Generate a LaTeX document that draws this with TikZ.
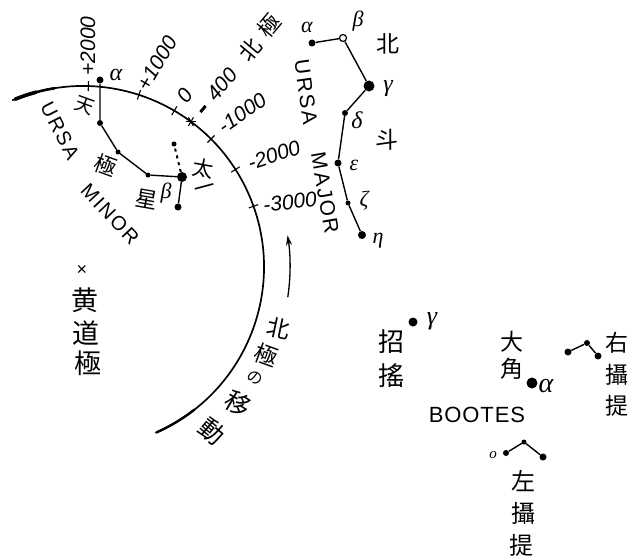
\documentclass[tikz,border=0pt]{standalone}
\usepackage{fontspec}
\setmainfont{Liberation Sans}
\newfontfamily\cjk{Noto Sans CJK JP}
\newfontfamily\grkfont{Liberation Serif}
\usetikzlibrary{arrows.meta,calc}
\begin{document}
\begin{tikzpicture}[x=1pt,y=-1pt,
  sdot/.style={circle,fill=black,inner sep=0pt,minimum size=#1},
  odot/.style={circle,draw=black,fill=white,line width=1.2pt,inner sep=0pt,minimum size=#1},
  link/.style={line width=1.4pt},
  arctick/.style={line width=1.1pt},
  cj/.style={font=\cjk\fontsize{#1}{#1}\selectfont,inner sep=0pt},
  num/.style={font=\itshape\fontsize{21}{21}\selectfont,inner sep=0pt},
  lettering/.style={font=\fontsize{#1}{#1}\selectfont\addfontfeature{LetterSpace=10},inner sep=0pt},
  grk/.style={font=\grkfont\itshape\fontsize{#1}{#1}\selectfont,inner sep=0pt}
]
\useasboundingbox (0,0) rectangle (631,559);

% ---- path of the north celestial pole around the ecliptic pole ----
\coordinate (C) at (83,267);
\draw[line width=1.7pt] (C) ++(-113:181) arc[start angle=-113,end angle=66.4,radius=181];
\draw[line width=3.6pt,line cap=round] (C) ++(-112:181) arc[start angle=-112,end angle=-105,radius=181];
\draw[line width=2.6pt] (C) ++(-109:181) arc[start angle=-109,end angle=-99,radius=181];
\draw[line width=2.4pt,line cap=round] (C) ++(52:181) arc[start angle=52,end angle=66,radius=181];

% year marks on the path
\foreach \a in {-88.3,-72,-59.7,-45,-32.6,-19.6}
  \draw[arctick] (C) ++(\a:176) -- ++(\a:10);
\coordinate (now) at ($(C)+(-53.4:181)$);
\foreach \b in {0,60,120}
  \draw[arctick] (now) ++(\b:5) -- ++(\b+180:10);

% year labels
\node[num,rotate=90] (y2000) at (88,46) {+2000};
\node[num,rotate=60] (y1000) at (157,63) {+1000};
\node[num,rotate=55] (y0) at (185,96) {0};
\node[inner sep=0pt,rotate=50] (ydash) at (203,109) {\rule{8pt}{3pt}};
\node[num,rotate=50] (y400) at (222,84) {400};
\node[cj=22,rotate=50] (hk1) at (250,50) {北};
\node[cj=22,rotate=50] (hk2) at (269,26) {極};
\node[num,rotate=35] (ym1000) at (242,113) {-1000};
\node[num,rotate=18] (ym2000) at (274,155) {-2000};
\node[num,rotate=7] (ym3000) at (290,202) {-3000};

% direction of motion
\coordinate (mvA) at ($(C)+(8.4:207)$);
\draw[line width=1.3pt,-{Stealth[length=10pt,width=6pt]}] (mvA) arc[start angle=8.4,end angle=-8.8,radius=207];
\node[cj=23,rotate=-12] (mv1) at (279,328) {北};
\node[cj=23,rotate=-20] (mv2) at (266,355) {極};
\node[cj=16,rotate=-25] (mv3) at (255,378) {の};
\node[cj=25,rotate=-30] (mv4) at (238,404) {移};
\node[cj=25,rotate=-40] (mv5) at (212,431) {動};

% ecliptic pole
\node[font=\fontsize{18}{18}\selectfont,inner sep=0pt] (ecl) at (82,270) {×};
\node[cj=27] (ec1) at (85,300) {黄};
\node[cj=27] (ec2) at (86,333) {道};
\node[cj=27] (ec3) at (88,363) {極};

% ---- Ursa Minor ----
\node[sdot=7pt] (um1) at (100,80) {};
\node[sdot=6pt] (um2) at (100,123) {};
\node[sdot=5pt] (um3) at (118,152) {};
\node[sdot=5pt] (um4) at (148,175) {};
\node[sdot=10pt] (um5) at (182,177) {};
\node[sdot=5pt] (um6) at (174,144) {};
\node[sdot=7pt] (um7) at (178,207) {};
\draw[link] (um1) -- (um2) -- (um3) -- (um4) -- (um5) -- (um7);
\draw[link,line width=2pt,dash pattern=on 3pt off 4pt] (um5) -- (um6);
\node[grk=24] (umA) at (116,75) {α};
\node[grk=22] (umB) at (166,193) {β};
\node[cj=19,rotate=-20] (umc1) at (85,106) {天};
\node[cj=22,rotate=-20] (umc2) at (106,165) {極};
\node[cj=22,rotate=-10] (umc3) at (147,199) {星};
\node[cj=21,rotate=-10] (umc4) at (203,168) {太};
\node[cj=21,rotate=15] (umc5) at (205,190) {一};
\node[lettering=20,rotate=-63] (umn1) at (60,131) {URSA};
\node[lettering=20,rotate=-47] (umn2) at (110,214) {MINOR};

% ---- Ursa Major ----
\node[sdot=7pt] (UA) at (312,43) {};
\node[odot=7pt] (UB) at (343,38) {};
\node[sdot=11pt] (UG) at (369,86) {};
\node[sdot=6pt] (UD) at (345,113) {};
\node[sdot=7pt] (UE) at (338,163) {};
\node[sdot=5pt] (UZ) at (348,203) {};
\node[sdot=8pt] (UH) at (362,235) {};
\draw[link] (UA) -- (UB) -- (UG) -- (UD) -- (UE) -- (UZ) -- (UH);
\node[grk=22] (lA) at (307,27) {α};
\node[grk=22] (lB) at (358,21) {β};
\node[grk=24] (lG) at (388,89) {γ};
\node[grk=24] (lD) at (357,120) {δ};
\node[grk=22] (lE) at (354,165) {ε};
\node[grk=22] (lZ) at (364,201) {ζ};
\node[grk=22] (lH) at (378,241) {η};
\node[cj=23] (hd1) at (388,44) {北};
\node[cj=23] (hd2) at (387,140) {斗};
\node[lettering=21,rotate=-82] (uma1) at (306,92) {URSA};
\node[lettering=21,rotate=-80] (uma2) at (325,193) {MAJOR};

% ---- Bootes ----
\node[sdot=9pt] (BG) at (413,322) {};
\node[grk=26] (lBG) at (432,321) {γ};
\node[cj=26] (zy1) at (391,342) {招};
\node[cj=26] (zy2) at (391,376) {搖};
\node[sdot=11pt] (BA) at (532,383) {};
\node[grk=28] (lBA) at (546,386) {α};
\node[cj=23] (dj1) at (512,342) {大};
\node[cj=23] (dj2) at (512,369) {角};
\node[font=\fontsize{22}{22}\selectfont\addfontfeature{LetterSpace=4},inner sep=0pt] (boo) at (477,415) {BOOTES};

\node[sdot=7pt] (R1) at (568,352) {};
\node[sdot=6pt] (R2) at (587,343) {};
\node[sdot=7pt] (R3) at (598,356) {};
\draw[link] (R1) -- (R2) -- (R3);
\node[cj=23] (rs1) at (617,343) {右};
\node[cj=23] (rs2) at (617,375) {攝};
\node[cj=23] (rs3) at (617,406) {提};

\node[sdot=6pt] (L1) at (506,453) {};
\node[sdot=5pt] (L2) at (524,442) {};
\node[sdot=7pt] (L3) at (543,457) {};
\draw[link] (L1) -- (L2) -- (L3);
\node[font=\grkfont\itshape\fontsize{15}{15}\selectfont,inner sep=0pt] (lo) at (493,455) {o};
\node[cj=24] (ls1) at (523,481) {左};
\node[cj=24] (ls2) at (523,513) {攝};
\node[cj=24] (ls3) at (521,545) {提};
\end{tikzpicture}
\end{document}
